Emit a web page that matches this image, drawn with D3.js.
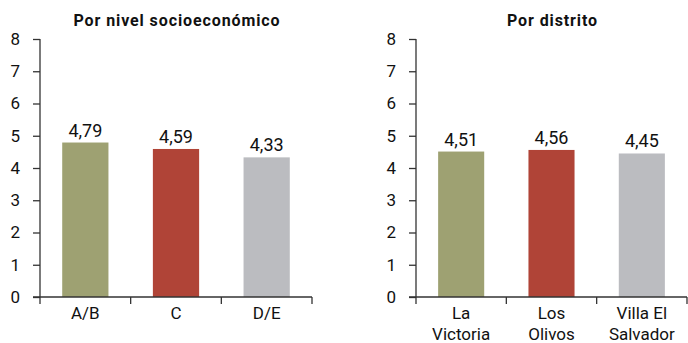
<!DOCTYPE html>
<html><head><meta charset="utf-8">
<script src="https://cdn.jsdelivr.net/npm/d3@7"></script>
<style>
html,body{margin:0;padding:0;background:#fff;}
svg{display:block;font-family:Roboto, "Open Sans", sans-serif;}
</style></head>
<body>
<svg id="chart" width="688" height="343"></svg>
<script>
// ---- data ----
const titles = ["Por nivel socioeconómico", "Por distrito"];
const catsNSE = ["A/B", "C", "D/E"];
const valuesNSE = [4.79, 4.59, 4.33];
const catsDistrito = ["La\nVictoria", "Los\nOlivos", "Villa El\nSalvador"];
const valuesDistrito = [4.51, 4.56, 4.45];
const yTicks = [0, 1, 2, 3, 4, 5, 6, 7, 8];
const colors = ["#9ea172", "#b04437", "#bbbcc0"];

const svg = d3.select("#chart");
const fmt = v => d3.format(".2f")(v).replace(".", ",");

function panel(title, cats, vals, x0, x1) {
  const top = 39, bottom = 297;
  const y = d3.scaleLinear().domain([0, 8]).range([bottom, top]);
  const x = d3.scaleBand().domain(cats).range([x0, x1]).padding(0);
  const g = svg.append("g");

  // title
  g.append("text").attr("x", (x0 + x1) / 2 + 1).attr("y", 26)
    .attr("text-anchor", "middle").attr("font-weight", "bold")
    .attr("letter-spacing", 0.9)
    .attr("font-size", 16).attr("fill", "#111").text(title);

  // bars
  const bw = x.bandwidth() * 0.51;
  g.selectAll("rect").data(cats).join("rect")
    .attr("x", d => x(d) + (x.bandwidth() - bw) / 2)
    .attr("width", bw)
    .attr("y", (d, i) => y(vals[i]))
    .attr("height", (d, i) => y(0) - y(vals[i]))
    .attr("fill", (d, i) => colors[i]);

  // value labels
  g.selectAll("text.val").data(cats).join("text").attr("class", "val")
    .attr("x", d => x(d) + x.bandwidth() / 2)
    .attr("y", (d, i) => y(vals[i]) - 6)
    .attr("text-anchor", "middle").attr("font-size", 18).attr("fill", "#111")
    .text((d, i) => fmt(vals[i]));

  // y axis
  const ya = g.append("g").attr("transform", `translate(${x0},0)`)
    .call(d3.axisLeft(y).tickValues(yTicks).tickSize(7).tickPadding(13).tickFormat(d3.format("d")));
  ya.select(".domain").attr("stroke", "#333").attr("stroke-width", 1.3).attr("d", `M0,${top}V${bottom}`);
  ya.selectAll(".tick line").attr("stroke", "#333").attr("stroke-width", 1.3);
  ya.selectAll(".tick text").attr("font-size", 17).attr("fill", "#111").attr("font-family", "Roboto, sans-serif");

  // x axis
  const xa = g.append("g");
  xa.append("line").attr("x1", x0 - 7).attr("x2", x1).attr("y1", bottom).attr("y2", bottom)
    .attr("stroke", "#333").attr("stroke-width", 1.3);
  const bounds = cats.map(d => x(d)).concat([x1]);
  xa.selectAll("line.t").data(bounds).join("line").attr("class", "t")
    .attr("x1", d => d).attr("x2", d => d).attr("y1", bottom).attr("y2", bottom + 7)
    .attr("stroke", "#333").attr("stroke-width", 1.3);
  const lab = xa.selectAll("text.cat").data(cats).join("text").attr("class", "cat")
    .attr("text-anchor", "middle").attr("font-size", 17).attr("fill", "#111");
  lab.each(function(d) {
    const t = d3.select(this);
    d.split("\n").forEach((s, i) => {
      t.append("tspan").attr("x", x(d) + x.bandwidth() / 2).attr("y", 319 + i * 21).text(s);
    });
  });
}

panel(titles[0], catsNSE, valuesNSE, 40, 312);
panel(titles[1], catsDistrito, valuesDistrito, 416, 687);
</script>
</body></html>
